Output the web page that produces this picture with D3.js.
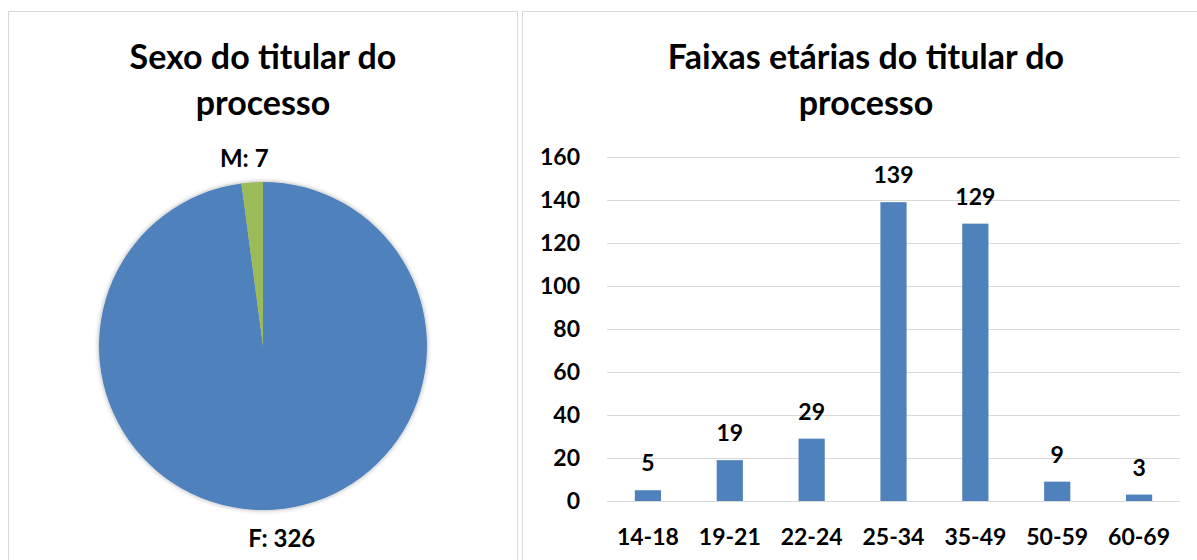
<!doctype html>
<html lang="pt">
<head>
 <meta charset="utf-8">
 <script src="https://cdn.jsdelivr.net/npm/d3@7"></script>
 <title>Sexo e faixas etárias do titular do processo</title>
 <style>
  body { margin: 0; background: #fff; }
  svg { font-family: Lato, "Open Sans", sans-serif; font-weight: bold; }
 </style>
</head>
<body>
<svg id="chart" width="1197" height="560"></svg>

<script>
    // pie data
    var sexLabels = ["F", "M"];
    var sexValues = [326, 7];

    // bar data
    var ageBands  = ["14-18", "19-21", "22-24", "25-34", "35-49", "50-59", "60-69"];
    var ageValues = [5, 19, 29, 139, 129, 9, 3];
    var yTicks    = [0, 20, 40, 60, 80, 100, 120, 140, 160];

    var blue = "#4F81BD";
    var green = "#9BBB59";

    var svg = d3.select("#chart");

    // shadow for the pie
    var defs = svg.append("defs");
    var f = defs.append("filter").attr("id", "shadow")
        .attr("x", "-10%").attr("y", "-10%").attr("width", "120%").attr("height", "120%");
    f.append("feGaussianBlur").attr("in", "SourceAlpha").attr("stdDeviation", 2.5);
    f.append("feOffset").attr("dx", 0).attr("dy", 0).attr("result", "blur");
    f.append("feComponentTransfer").append("feFuncA").attr("type", "linear").attr("slope", 0.35);
    var fm = f.append("feMerge");
    fm.append("feMergeNode");
    fm.append("feMergeNode").attr("in", "SourceGraphic");

    // panel frames
    svg.append("rect").attr("x", 8.5).attr("y", 11.5).attr("width", 509).attr("height", 560)
        .attr("fill", "#fff").attr("stroke", "#D9D9D9");
    svg.append("rect").attr("x", 522.5).attr("y", 11.5).attr("width", 690).attr("height", 560)
        .attr("fill", "#fff").attr("stroke", "#D9D9D9");

    // ---- left: pie ----
    var left = svg.append("g");
    left.selectAll(".title").data(["Sexo do titular do", "processo"]).enter().append("text")
        .attr("x", 263)
        .attr("y", function (d, i) { return 69 + i * 46; })
        .attr("text-anchor", "middle")
        .attr("font-size", 34)
        .text(function (d) { return d; });

    var cx = 263, cy = 346, r = 164;
    var pie = d3.pie().sort(null)(sexValues);
    var arc = d3.arc().innerRadius(0).outerRadius(r);
    var pg = left.append("g").attr("transform", "translate(" + cx + "," + cy + ")")
        .attr("filter", "url(#shadow)");
    pg.selectAll("path").data(pie).enter().append("path")
        .attr("d", arc)
        .attr("fill", function (d, i) { return i === 0 ? blue : green; });

    // slice labels outside the end, pushed along the mid angle
    function mid(d) { return (d.startAngle + d.endAngle) / 2; }
    left.selectAll(".slice-label").data(pie).enter().append("text")
        .attr("x", function (d) { return cx + Math.sin(mid(d)) * 284; })
        .attr("y", function (d) {
            return Math.cos(mid(d)) < 0 ? cy + r + 37 : cy - r - 15;
        })
        .attr("text-anchor", "middle")
        .attr("font-size", 24)
        .text(function (d, i) { return sexLabels[i] + ": " + d.value; });

    // ---- right: bars ----
    var right = svg.append("g");
    right.selectAll(".title").data(["Faixas etárias do titular do", "processo"]).enter().append("text")
        .attr("x", 866)
        .attr("y", function (d, i) { return 69 + i * 46; })
        .attr("text-anchor", "middle")
        .attr("font-size", 34)
        .text(function (d) { return d; });

    var x = d3.scaleBand().domain(ageBands).range([607, 1180]);
    var y = d3.scaleLinear().domain([0, 160]).range([501, 157]);
    var barW = x.bandwidth() * 0.32;

    right.selectAll(".grid").data(yTicks).enter().append("line")
        .attr("x1", 607).attr("x2", 1180)
        .attr("y1", function (d) { return y(d) + 0.5; })
        .attr("y2", function (d) { return y(d) + 0.5; })
        .attr("stroke", "#D9D9D9");

    right.selectAll(".ytick").data(yTicks).enter().append("text")
        .attr("x", 580)
        .attr("y", function (d) { return y(d) + 8; })
        .attr("text-anchor", "end")
        .attr("font-size", 23)
        .text(function (d) { return d; });

    right.selectAll(".bar").data(ageValues).enter().append("rect")
        .attr("x", function (d, i) { return x(ageBands[i]) + x.bandwidth() / 2 - barW / 2; })
        .attr("y", function (d) { return y(d); })
        .attr("width", barW)
        .attr("height", function (d) { return y(0) - y(d); })
        .attr("fill", blue);

    right.selectAll(".val").data(ageValues).enter().append("text")
        .attr("x", function (d, i) { return x(ageBands[i]) + x.bandwidth() / 2; })
        .attr("y", function (d) { return y(d) - 19; })
        .attr("text-anchor", "middle")
        .attr("font-size", 23)
        .text(function (d) { return d; });

    right.selectAll(".xlab").data(ageBands).enter().append("text")
        .attr("x", function (d) { return x(d) + x.bandwidth() / 2; })
        .attr("y", 545)
        .attr("text-anchor", "middle")
        .attr("font-size", 23)
        .text(function (d) { return d; });
</script>
</body>
</html>
